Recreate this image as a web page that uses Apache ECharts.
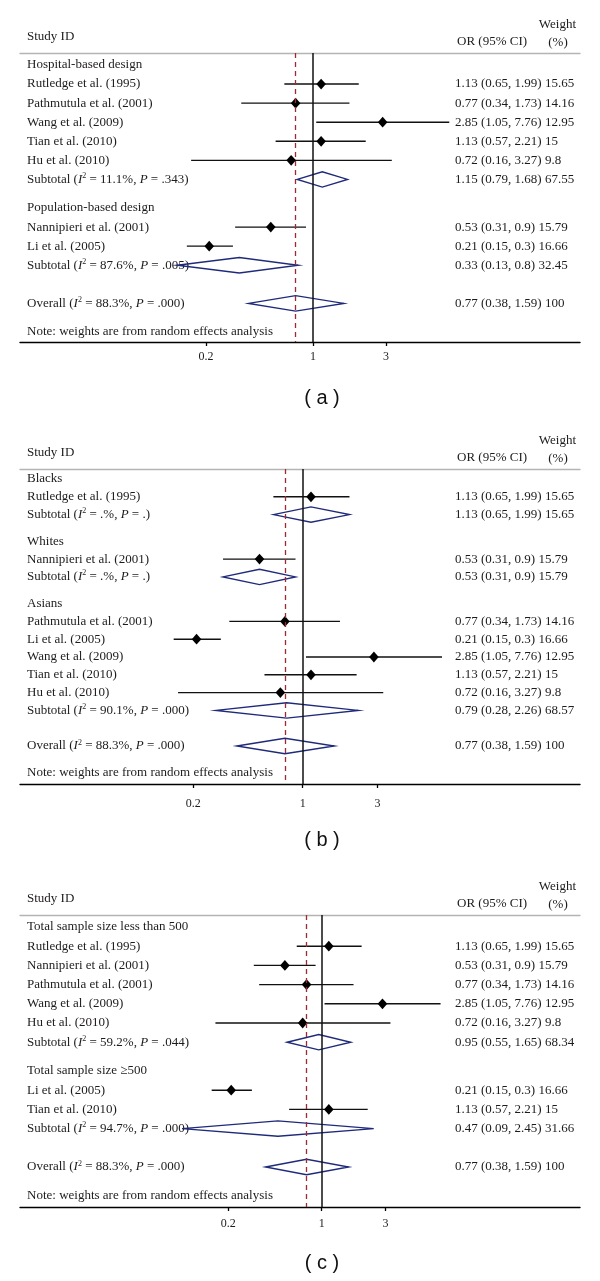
<!DOCTYPE html>
<html><head><meta charset="utf-8">
<script src="https://cdn.jsdelivr.net/npm/echarts@6/dist/echarts.min.js"></script>
<style>html,body{margin:0;padding:0;background:#fff}#c{width:600px;height:1281px}</style>
</head><body><div id="c"></div>
<script>
// ---------------- data ----------------
const panelNames = ["( a )", "( b )", "( c )"];
const tickValues = [0.2, 1, 3];
const tickLabels = ["0.2", "1", "3"];
const overallOR = 0.77;
const noteText = "Note: weights are from random effects analysis";

// Panel (a)
const aLabels = ["Hospital-based design","Rutledge et al. (1995)","Pathmutula et al. (2001)","Wang et al. (2009)","Tian et al. (2010)","Hu et al. (2010)","Subtotal","Population-based design","Nannipieri et al. (2001)","Li et al. (2005)","Subtotal","Overall"];
const aTypes = ["group","study","study","study","study","study","sub","group","study","study","sub","overall"];
const aOR = [null,1.13,0.77,2.85,1.13,0.72,1.15,null,0.53,0.21,0.33,0.77];
const aLow = [null,0.65,0.34,1.05,0.57,0.16,0.79,null,0.31,0.15,0.13,0.38];
const aHigh = [null,1.99,1.73,7.76,2.21,3.27,1.68,null,0.9,0.3,0.8,1.59];
const aWeight = [null,15.65,14.16,12.95,15,9.8,67.55,null,15.79,16.66,32.45,100];
const aI2 = [null,null,null,null,null,null,"11.1%",null,null,null,"87.6%","88.3%"];
const aP = [null,null,null,null,null,null,".343",null,null,null,".005",".000"];

// Panel (b)
const bLabels = ["Blacks","Rutledge et al. (1995)","Subtotal","Whites","Nannipieri et al. (2001)","Subtotal","Asians","Pathmutula et al. (2001)","Li et al. (2005)","Wang et al. (2009)","Tian et al. (2010)","Hu et al. (2010)","Subtotal","Overall"];
const bTypes = ["group","study","sub","group","study","sub","group","study","study","study","study","study","sub","overall"];
const bOR = [null,1.13,1.13,null,0.53,0.53,null,0.77,0.21,2.85,1.13,0.72,0.79,0.77];
const bLow = [null,0.65,0.65,null,0.31,0.31,null,0.34,0.15,1.05,0.57,0.16,0.28,0.38];
const bHigh = [null,1.99,1.99,null,0.9,0.9,null,1.73,0.3,7.76,2.21,3.27,2.26,1.59];
const bWeight = [null,15.65,15.65,null,15.79,15.79,null,14.16,16.66,12.95,15,9.8,68.57,100];
const bI2 = [null,null,".%",null,null,".%",null,null,null,null,null,null,"90.1%","88.3%"];
const bP = [null,null,".",null,null,".",null,null,null,null,null,null,".000",".000"];

// Panel (c)
const cLabels = ["Total sample size less than 500","Rutledge et al. (1995)","Nannipieri et al. (2001)","Pathmutula et al. (2001)","Wang et al. (2009)","Hu et al. (2010)","Subtotal","Total sample size \u2265500","Li et al. (2005)","Tian et al. (2010)","Subtotal","Overall"];
const cTypes = ["group","study","study","study","study","study","sub","group","study","study","sub","overall"];
const cOR = [null,1.13,0.53,0.77,2.85,0.72,0.95,null,0.21,1.13,0.47,0.77];
const cLow = [null,0.65,0.31,0.34,1.05,0.16,0.55,null,0.15,0.57,0.09,0.38];
const cHigh = [null,1.99,0.9,1.73,7.76,3.27,1.65,null,0.3,2.21,2.45,1.59];
const cWeight = [null,15.65,15.79,14.16,12.95,9.8,68.34,null,16.66,15,31.66,100];
const cI2 = [null,null,null,null,null,null,"59.2%",null,null,null,"94.7%","88.3%"];
const cP = [null,null,null,null,null,null,".044",null,null,null,".000",".000"];

// ---------------- layout / style ----------------
const FONT = '"Liberation Serif", "Times New Roman", serif';
const TXT = '#1e1b1c';
const NAVY = '#1f2a7a';
const RED = '#9a2a33';

const panels = [
  {labels:aLabels, types:aTypes, or:aOR, lo:aLow, hi:aHigh, w:aWeight, i2:aI2, p:aP},
  {labels:bLabels, types:bTypes, or:bOR, lo:bLow, hi:bHigh, w:bWeight, i2:bI2, p:bP},
  {labels:cLabels, types:cTypes, or:cOR, lo:cLow, hi:cHigh, w:cWeight, i2:cI2, p:cP}
];
const layout = [
  {top:53,  axisY:342,  row0:65,  step:19.07, xMin:-4.406, xMax:4.015, labelMargin:9},
  {top:469, axisY:784,  row0:479, step:17.8,  xMin:-4.157, xMax:4.078, labelMargin:14},
  {top:915, axisY:1207, row0:927, step:19.2,  xMin:-5.202, xMax:4.453, labelMargin:11}
];
const GRID_LEFT = 20, GRID_W = 560;

const richStyles = {
  n: {fontFamily: FONT, fontSize: 13, lineHeight: 15, fill: TXT},
  i: {fontFamily: FONT, fontSize: 13, lineHeight: 15, fontStyle: 'italic', fill: TXT},
  s: {fontFamily: FONT, fontSize: 8, lineHeight: 9, verticalAlign: 'top', fill: TXT}
};

function buildRows(pd) {
  const rows = [];
  let pos = 0;
  pd.labels.forEach((lab, i) => {
    const t = pd.types[i];
    if (i > 0) {
      pos += 1;
      if (t === 'group') pos += 0.5;
      if (t === 'overall') pos += 1;
    }
    let text;
    if (t === 'sub' || t === 'overall') {
      text = '{n|' + lab + ' (}{i|I}{s|2}{n| = ' + pd.i2[i] + ', }{i|P}{n| = ' + pd.p[i] + ')}';
    } else {
      text = '{n|' + lab + '}';
    }
    rows.push({type: t, text: text, or: pd.or[i], lo: pd.lo[i], hi: pd.hi[i], w: pd.w[i], pos: pos});
  });
  rows.push({type: 'note', text: '{n|' + noteText + '}', or: null, pos: pos + 1.5});
  return rows;
}

const option = {animation: false, grid: [], xAxis: [], yAxis: [], series: [], graphic: []};

panels.forEach((pd, k) => {
  const L = layout[k];
  const rows = buildRows(pd);
  option.grid.push({left: GRID_LEFT, width: GRID_W, top: L.top, height: L.axisY - L.top,
    containLabel: false, outerBoundsMode: 'none'});
  const lnTicks = tickValues.map(v => Math.log(v));
  option.xAxis.push({
    type: 'value', gridIndex: k, min: L.xMin, max: L.xMax, position: 'bottom',
    axisLine: {show: true, onZero: false, lineStyle: {color: '#000', width: 1.4}},
    axisTick: {show: true, customValues: lnTicks, length: 4, inside: false, lineStyle: {color: '#000', width: 1.3}},
    axisLabel: {show: true, customValues: lnTicks, margin: L.labelMargin, fontFamily: FONT, fontSize: 12, color: TXT,
      formatter: v => { for (let j = 0; j < tickValues.length; j++) { if (Math.abs(Math.log(tickValues[j]) - v) < 1e-6) return tickLabels[j]; } return ''; }},
    splitLine: {show: false}
  });
  option.xAxis.push({
    type: 'value', gridIndex: k, min: L.xMin, max: L.xMax, position: 'top',
    axisLine: {show: true, onZero: false, lineStyle: {color: '#b4b4b4', width: 1.3}},
    axisTick: {show: false}, axisLabel: {show: false}, splitLine: {show: false}
  });
  option.yAxis.push({
    type: 'value', gridIndex: k, inverse: true, show: false,
    min: -(L.row0 - L.top) / L.step, max: (L.axisY - L.row0) / L.step,
    splitLine: {show: false}
  });

  option.series.push({
    type: 'custom', xAxisIndex: k * 2, yAxisIndex: k, clip: false, silent: true, z: 3,
    data: rows.map((r, i) => [r.or != null ? Math.log(r.or) : 0, r.pos, i]),
    renderItem: function (params, api) {
      const r = rows[api.value(2)];
      const cs = params.coordSys;
      const y = api.coord([0, api.value(1)])[1];
      const ch = [];
      ch.push({type: 'text', style: {text: r.text, rich: richStyles, x: cs.x + 7, y: y,
        align: 'left', verticalAlign: 'middle', fontFamily: FONT, fontSize: 13, fill: TXT}});
      if (r.or != null) {
        const xL = api.coord([Math.log(r.lo), r.pos])[0];
        const xH = api.coord([Math.log(r.hi), r.pos])[0];
        const xC = api.coord([Math.log(r.or), r.pos])[0];
        if (r.type === 'study') {
          ch.push({type: 'line', shape: {x1: xL, y1: y, x2: xH, y2: y}, style: {stroke: '#111', lineWidth: 1.4}});
          ch.push({type: 'polygon', shape: {points: [[xC - 4.8, y], [xC, y - 5.4], [xC + 4.8, y], [xC, y + 5.4]]}, style: {fill: '#000'}});
        } else {
          ch.push({type: 'polygon', shape: {points: [[xL, y], [xC, y - 7.7], [xH, y], [xC, y + 7.7]]},
            style: {fill: 'none', stroke: NAVY, lineWidth: 1.4}});
        }
        ch.push({type: 'text', style: {text: r.or + ' (' + r.lo + ', ' + r.hi + ') ' + r.w,
          x: cs.x + 435, y: y, align: 'left', verticalAlign: 'middle', fontFamily: FONT, fontSize: 13, fill: TXT}});
      }
      return {type: 'group', children: ch};
    }
  });

  option.series.push({
    type: 'line', xAxisIndex: k * 2, yAxisIndex: k, data: [], silent: true,
    markLine: {
      silent: true, symbol: ['none', 'none'], label: {show: false}, animation: false, z: 6,
      data: [
        {xAxis: 0, lineStyle: {color: '#111', type: 'solid', width: 1.5}},
        {xAxis: Math.log(overallOR), lineStyle: {color: RED, type: [5, 4], width: 1.3}}
      ]
    }
  });

  const gTexts = [
    {text: 'Study ID', x: 27, y: L.top - 16, align: 'left'},
    {text: 'OR (95% CI)', x: 457, y: L.top - 11, align: 'left'},
    {text: 'Weight', x: 576, y: L.top - 28, align: 'right'},
    {text: '(%)', x: 558, y: L.top - 10, align: 'center'}
  ];
  gTexts.forEach(t => option.graphic.push({type: 'text', silent: true, x: t.x, y: t.y,
    style: {text: t.text, align: t.align, verticalAlign: 'middle', fontFamily: FONT, fontSize: 13, fill: TXT}}));
  option.graphic.push({type: 'text', silent: true, x: 322, y: L.axisY + 56,
    style: {text: panelNames[k], align: 'center', verticalAlign: 'middle', fontFamily: '"Liberation Sans", Arial, sans-serif', fontSize: 20, fill: '#111'}});
});

const chart = echarts.init(document.getElementById('c'), null, {renderer: 'canvas'});
chart.setOption(option);
</script></body></html>
